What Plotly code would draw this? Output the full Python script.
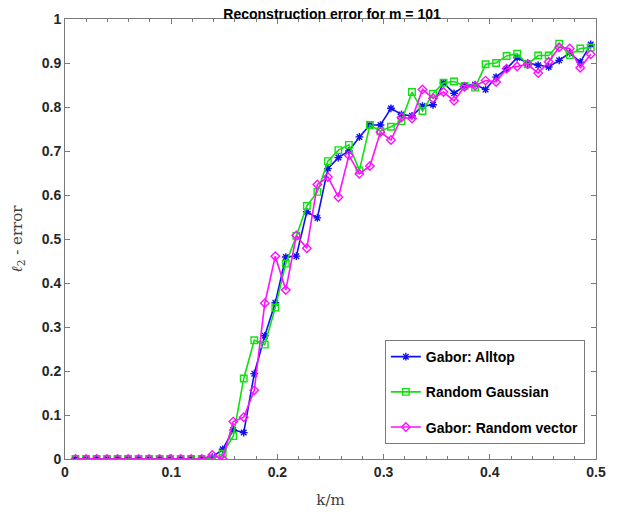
import plotly.graph_objects as go

m = 101
k_values = list(range(1, 51))
x_vals = [k / m for k in k_values]

alltop = [0]*13 + [0.004, 0.022, 0.066, 0.060, 0.194, 0.280, 0.355, 0.459, 0.461, 0.562, 0.548,
                   0.660, 0.685, 0.700, 0.732, 0.759, 0.759, 0.797, 0.783, 0.780, 0.802,
                   0.805, 0.855, 0.831, 0.848, 0.851, 0.840, 0.868, 0.887, 0.912, 0.900,
                   0.895, 0.891, 0.906, 0.923, 0.902, 0.942]
gaussian = [0]*13 + [0.0, 0.012, 0.052, 0.183, 0.270, 0.260, 0.344, 0.444, 0.507, 0.575, 0.607,
                     0.677, 0.702, 0.714, 0.656, 0.759, 0.745, 0.755, 0.768, 0.834, 0.791,
                     0.830, 0.855, 0.858, 0.848, 0.844, 0.897, 0.900, 0.916, 0.921, 0.897,
                     0.917, 0.917, 0.944, 0.918, 0.933, 0.935]
randvec = [0]*13 + [0.009, 0.0, 0.085, 0.095, 0.156, 0.354, 0.461, 0.384, 0.508, 0.479, 0.624,
                    0.641, 0.595, 0.690, 0.648, 0.666, 0.743, 0.725, 0.776, 0.774, 0.840,
                    0.820, 0.834, 0.814, 0.846, 0.848, 0.860, 0.857, 0.887, 0.892, 0.897,
                    0.877, 0.903, 0.936, 0.933, 0.889, 0.920]

x_ticks = [0, 0.1, 0.2, 0.3, 0.4, 0.5]
x_tick_labels = ["0", "0.1", "0.2", "0.3", "0.4", "0.5"]
y_ticks = [0, 0.1, 0.2, 0.3, 0.4, 0.5, 0.6, 0.7, 0.8, 0.9, 1]
y_tick_labels = ["0", "0.1", "0.2", "0.3", "0.4", "0.5", "0.6", "0.7", "0.8", "0.9", "1"]

series = [
    ("Gabor: Alltop", alltop, "#1010F0", "asterisk-open"),
    ("Random Gaussian", gaussian, "#10E010", "square-open"),
    ("Gabor: Random vector", randvec, "#FF10FF", "diamond-open"),
]

fig = go.Figure()
for i, (name, vals, col, sym) in enumerate(series):
    fig.add_trace(go.Scatter(
        x=x_vals, y=vals, mode="lines+markers", name=name,
        legendgroup=f"g{i}",
        line=dict(color=col, width=1.6),
        marker=dict(symbol=sym, size=6.5, color=col, line=dict(color=col, width=1.4)),
    ))

axis_common = dict(
    showline=True, linecolor="#7a7a7a", linewidth=1, mirror="allticks",
    ticks="inside", ticklen=5, tickcolor="#7a7a7a", showgrid=False, zeroline=False,
    automargin=False, ticklabeloverflow="allow",
    tickfont=dict(family="Liberation Sans", size=14, color="#262626"),
)

fig.update_layout(
    width=628, height=516,
    margin=dict(l=57, r=40, t=11, b=65, autoexpand=False),
    paper_bgcolor="white", plot_bgcolor="white",
    title=dict(text="<b>Reconstruction error for m = 101</b>", x=0.516, xanchor="center",
               xref="container", y=0.997, yanchor="top", yref="container",
               font=dict(family="Liberation Sans", size=14, color="black")),
    xaxis=dict(range=[0, 0.5], tickvals=x_ticks,
               ticktext=[f"<b>{t}</b>" for t in x_tick_labels],
               minor=dict(dtick=0.02, tick0=0, ticks="inside", ticklen=3, tickcolor="#7a7a7a"),
               title=dict(text="k/m", font=dict(family="DejaVu Serif", size=15, color="#404040")),
               **axis_common),
    yaxis=dict(range=[0, 1], tickvals=y_ticks,
               ticktext=[f"<b>{t}</b>" for t in y_tick_labels],
               title=dict(text="<i>ℓ</i><sub>2</sub> - error",
                          font=dict(family="DejaVu Serif", size=15, color="#404040")),
               **axis_common),
    legend=dict(x=0.979, xanchor="right", y=0.034, yanchor="bottom",
                bgcolor="white", bordercolor="#7a7a7a", borderwidth=1,
                font=dict(family="Liberation Sans", size=14, color="black", weight="bold"),
                tracegroupgap=14, itemwidth=30),
    showlegend=True,
)

fig.write_html("out.html")
